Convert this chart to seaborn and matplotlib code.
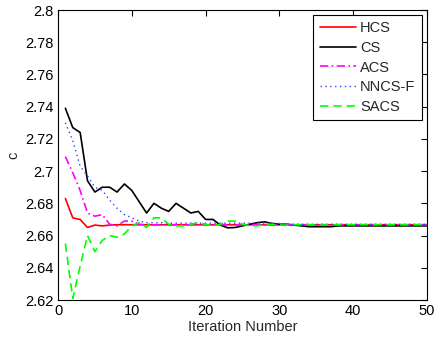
import numpy as np
import pandas as pd
import matplotlib
matplotlib.use("Agg")
import matplotlib.pyplot as plt
from matplotlib.ticker import FuncFormatter
import seaborn as sns

iterations = list(range(1, 51))

hcs = [2.683, 2.671, 2.670, 2.665, 2.6665, 2.666, 2.6665, 2.6667, 2.6667, 2.6667,
       2.6667, 2.6667, 2.6667, 2.6667, 2.6667, 2.6667, 2.6667, 2.6667, 2.6667, 2.6667,
       2.6667, 2.6667, 2.6667, 2.6667, 2.6667, 2.6667, 2.6667, 2.6667, 2.6667, 2.6667,
       2.6667, 2.6667, 2.6667, 2.6667, 2.6667, 2.6667, 2.6667, 2.6667, 2.6667, 2.6667,
       2.6667, 2.6667, 2.6667, 2.6667, 2.6667, 2.6667, 2.6667, 2.6667, 2.6667, 2.6667]

cs = [2.739, 2.727, 2.724, 2.694, 2.687, 2.690, 2.690, 2.687, 2.692, 2.688,
      2.681, 2.674, 2.680, 2.677, 2.675, 2.680, 2.677, 2.674, 2.675, 2.670,
      2.670, 2.6665, 2.6648, 2.665, 2.666, 2.667, 2.668, 2.6685, 2.6675, 2.667,
      2.667, 2.6665, 2.666, 2.6655, 2.6655, 2.6655, 2.6655, 2.666, 2.666, 2.666,
      2.666, 2.666, 2.666, 2.666, 2.666, 2.666, 2.666, 2.666, 2.666, 2.666]

acs = [2.709, 2.699, 2.688, 2.674, 2.672, 2.673, 2.667, 2.666, 2.669, 2.669,
       2.667, 2.6665, 2.6667, 2.6667, 2.6667, 2.6667, 2.6667, 2.6667, 2.6667, 2.6667,
       2.6667, 2.6667, 2.6667, 2.6667, 2.6667, 2.6667, 2.6667, 2.6667, 2.6667, 2.6667,
       2.6667, 2.6667, 2.6667, 2.6667, 2.6667, 2.6667, 2.6667, 2.6667, 2.6667, 2.6667,
       2.6667, 2.6667, 2.6667, 2.6667, 2.6667, 2.6667, 2.6667, 2.6667, 2.6667, 2.6667]

nncsf = [2.730, 2.719, 2.703, 2.697, 2.690, 2.688, 2.682, 2.677, 2.673, 2.671,
         2.669, 2.668, 2.668, 2.668, 2.6677, 2.6677, 2.6677, 2.6677, 2.6677, 2.6677,
         2.6677, 2.6677, 2.6677, 2.6677, 2.6677, 2.6677, 2.6677, 2.6677, 2.6677, 2.6675,
         2.6672, 2.667, 2.667, 2.667, 2.667, 2.667, 2.667, 2.667, 2.667, 2.667,
         2.667, 2.667, 2.667, 2.667, 2.667, 2.667, 2.667, 2.667, 2.667, 2.667]

sacs = [2.655, 2.621, 2.641, 2.660, 2.650, 2.657, 2.660, 2.659, 2.661, 2.666,
        2.668, 2.665, 2.671, 2.671, 2.667, 2.666, 2.666, 2.667, 2.668, 2.667,
        2.666, 2.667, 2.669, 2.669, 2.667, 2.666, 2.666, 2.667, 2.667, 2.6665,
        2.6665, 2.6667, 2.6667, 2.6667, 2.6665, 2.6665, 2.6667, 2.6667, 2.6667, 2.6667,
        2.6667, 2.6667, 2.6667, 2.6667, 2.6667, 2.6667, 2.6667, 2.6667, 2.6667, 2.6667]

series_names = ["HCS", "CS", "ACS", "NNCS-F", "SACS"]
series_values = [hcs, cs, acs, nncsf, sacs]
colors = ["#ff0000", "#000000", "#ff00ff", "#3344ff", "#00ff00"]
styles = ["-", "-", (0, (5, 2, 1, 2)), (0, (1, 2.5)), (0, (5, 3))]
widths = [1.2, 1.2, 1.2, 1.0, 1.2]

x_ticks = [0, 10, 20, 30, 40, 50]
y_ticks = [2.62, 2.64, 2.66, 2.68, 2.70, 2.72, 2.74, 2.76, 2.78, 2.80]

sns.set_style("white")
plt.rcParams["font.family"] = ["Liberation Sans", "DejaVu Sans"]

fig = plt.figure(figsize=(4.36, 3.41), dpi=100)
ax = fig.add_axes([58 / 436, 1 - 300 / 341, 369 / 436, 290 / 341])

for name, vals, col, ls, lw in zip(series_names, series_values, colors, styles, widths):
    df = pd.DataFrame({"Iteration": iterations, "c": vals})
    sns.lineplot(data=df, x="Iteration", y="c", ax=ax, color=col,
                 linestyle=ls, linewidth=lw, label=name)

ax.set_xlim(0, 50)
ax.set_ylim(2.62, 2.80)
ax.set_xticks(x_ticks)
ax.set_yticks(y_ticks)
ax.yaxis.set_major_formatter(FuncFormatter(lambda v, p: "%g" % round(v, 2)))
ax.tick_params(direction="in", length=4, width=0.8, top=True, right=True,
               labelsize=10.5, colors="black", pad=3)
for sp in ax.spines.values():
    sp.set_visible(True)
    sp.set_color("black")
    sp.set_linewidth(0.8)
ax.set_xlabel("Iteration Number", fontsize=10.5, labelpad=1)
ax.set_ylabel("c", fontsize=10.5, labelpad=4)

leg = ax.legend(loc="upper right", bbox_to_anchor=(0.986, 0.983), borderaxespad=0,
                fancybox=False, framealpha=1, edgecolor="black", fontsize=10.5,
                handlelength=2.5, handletextpad=0.25, labelspacing=0.38,
                borderpad=0.45)
leg.get_frame().set_linewidth(0.8)

fig.savefig("out.png", dpi=100)
